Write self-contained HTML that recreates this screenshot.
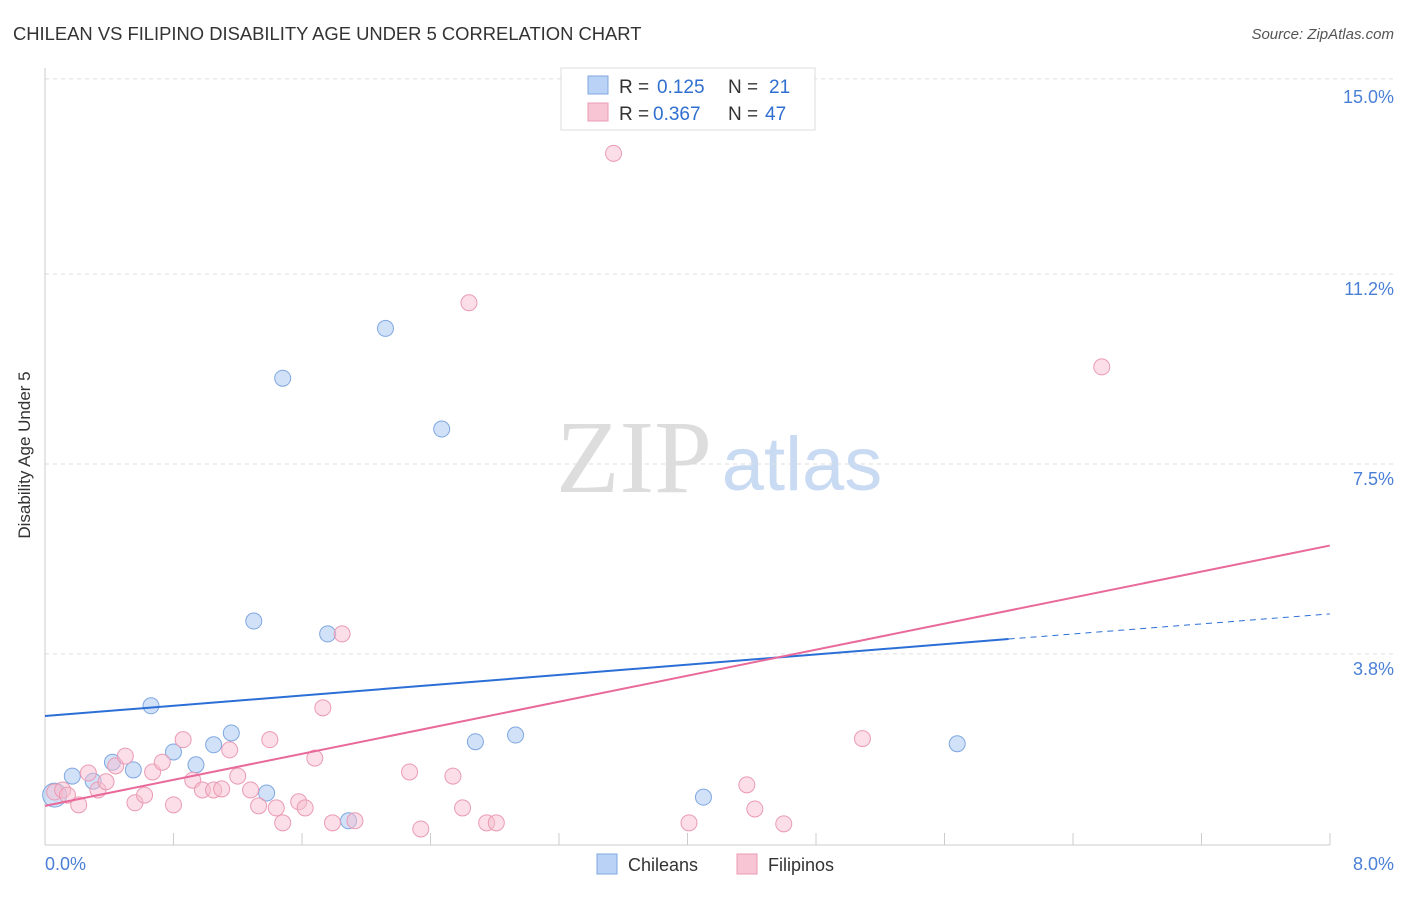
<!DOCTYPE html>
<html><head><meta charset="utf-8"><style>
body{margin:0;background:#fff;font-family:"Liberation Sans",sans-serif;}
</style></head><body>
<svg width="1406" height="892" xmlns="http://www.w3.org/2000/svg">
<text x="13" y="40" font-size="18.4" fill="#333">CHILEAN VS FILIPINO DISABILITY AGE UNDER 5 CORRELATION CHART</text>
<text x="1394" y="39" font-size="15" fill="#555" font-style="italic" text-anchor="end">Source: ZipAtlas.com</text>
<text x="634" y="492" font-size="104" fill="#ddd" font-family="Liberation Serif" text-anchor="middle">ZIP</text>
<text x="802" y="490" font-size="76" fill="#c9daf3" text-anchor="middle">atlas</text>
<g id="grid"></g>
<line x1="45" y1="68" x2="45" y2="845" stroke="#ccc"/>
<line x1="45" y1="845" x2="1330" y2="845" stroke="#ccc"/>
<g id="xt"></g>
<text x="30" y="455" font-size="17" fill="#333" text-anchor="middle" transform="rotate(-90 30 455)">Disability Age Under 5</text>
<text x="45" y="870" font-size="18" fill="#4a7fd6">0.0%</text>
<text x="1394" y="870" font-size="18" fill="#4a7fd6" text-anchor="end">8.0%</text>
<g id="pts"></g>
<g id="lines"></g>
<g>
<rect x="561" y="68" width="254" height="62" fill="#fff" stroke="#ddd"/>
<rect x="588" y="76" width="20" height="18" fill="#b9d2f5" stroke="#7fa7e0"/>
<text x="619" y="93" font-size="19" fill="#333">R =</text>
<text x="657" y="93" font-size="19" fill="#2f6fd0">0.125</text>
<text x="728" y="93" font-size="19" fill="#333">N =</text>
<text x="769" y="93" font-size="19" fill="#2f6fd0">21</text>
<rect x="588" y="103" width="20" height="18" fill="#f8c5d4" stroke="#ea9bb3"/>
<text x="619" y="120" font-size="19" fill="#333">R =</text>
<text x="653" y="120" font-size="19" fill="#2f6fd0">0.367</text>
<text x="728" y="120" font-size="19" fill="#333">N =</text>
<text x="765" y="120" font-size="19" fill="#2f6fd0">47</text>
</g>
<g>
<rect x="597" y="854" width="20" height="20" fill="#b9d2f5" stroke="#7fa7e0"/>
<text x="628" y="871" font-size="18" fill="#333">Chileans</text>
<rect x="737" y="854" width="20" height="20" fill="#f8c5d4" stroke="#ea9bb3"/>
<text x="768" y="871" font-size="18" fill="#333">Filipinos</text>
</g>
</svg>
<script>
const yTicks=[15.0,11.2,7.5,3.8];
const chX=[0.06,0.17,0.30,0.42,0.55,0.66,0.80,0.94,1.05,1.16,1.30,1.38,1.48,1.76,1.89,2.12,2.47,2.68,2.93,4.10,5.68];
const chY=[1.05,1.42,1.32,1.69,1.54,2.79,1.89,1.64,2.03,2.26,4.44,1.09,9.17,4.19,0.55,10.14,8.18,2.09,2.22,1.01,2.05];
const fiX=[0.06,0.11,0.14,0.21,0.27,0.33,0.38,0.44,0.50,0.56,0.62,0.67,0.73,0.80,0.86,0.92,0.98,1.05,1.10,1.15,1.20,1.28,1.33,1.40,1.44,1.48,1.58,1.62,1.68,1.73,1.79,1.85,1.93,2.27,2.34,2.54,2.60,2.64,2.75,2.81,3.54,4.01,4.37,4.42,4.60,5.09,6.58];
const fiY=[1.11,1.15,1.05,0.86,1.48,1.15,1.31,1.62,1.81,0.90,1.05,1.50,1.69,0.86,2.13,1.34,1.15,1.15,1.17,1.93,1.42,1.15,0.84,2.13,0.80,0.51,0.92,0.80,1.77,2.75,0.51,4.19,0.55,1.50,0.39,1.42,0.80,10.64,0.51,0.51,13.55,0.51,1.25,0.78,0.49,2.15,9.39];
const chLine=[2.59,4.09,4.58];const fiLine=[0.84,5.91];
const X=v=>45+v*160.6, Y=v=>849-v*51.34;
const ns="http://www.w3.org/2000/svg";
function mk(t,a,p){const e=document.createElementNS(ns,t);for(const k in a)e.setAttribute(k,a[k]);p.appendChild(e);return e;}
const g=document.getElementById('grid');
yTicks.forEach((t,i)=>{const l=mk('line',{x1:45,x2:1394,y1:Y(t),y2:Y(t),stroke:'#ddd','stroke-dasharray':'4,4'},g);


const tx=mk('text',{x:1394,y:Y(t)+(i==0?24:21),'font-size':18,fill:'#4a7fd6','text-anchor':'end'},g);tx.textContent=t.toFixed(1)+'%';

});
const xt=document.getElementById('xt');
for(let i=1;i<=10;i++){const l=mk('line',{x1:45+i*128.5,x2:45+i*128.5,y1:833,y2:845,stroke:'#ccc'},xt);

}
const p=document.getElementById('pts');
chX.forEach((x,i)=>{const c=mk('circle',{cx:X(x),cy:Y(chY[i]),r:i==0?12:8,fill:'rgba(170,200,243,0.55)',stroke:'#7fa7e0','stroke-width':1},p);

});
fiX.forEach((x,i)=>{const c=mk('circle',{cx:X(x),cy:Y(fiY[i]),r:8,fill:'rgba(248,190,208,0.5)',stroke:'#ea9bb3','stroke-width':1},p);

});
const L=document.getElementById('lines');
let a=mk('line',{x1:X(0),y1:Y(chLine[0]),x2:X(6),y2:Y(chLine[1]),stroke:'#2b6fd6','stroke-width':2},L);


a=mk('line',{x1:X(6),y1:Y(chLine[1]),x2:X(8),y2:Y(chLine[2]),stroke:'#2b6fd6','stroke-width':1,'stroke-dasharray':'6,5'},L);


a=mk('line',{x1:X(0),y1:Y(fiLine[0]),x2:X(8),y2:Y(fiLine[1]),stroke:'#e8699a','stroke-width':2},L);


</script>
</body></html>
